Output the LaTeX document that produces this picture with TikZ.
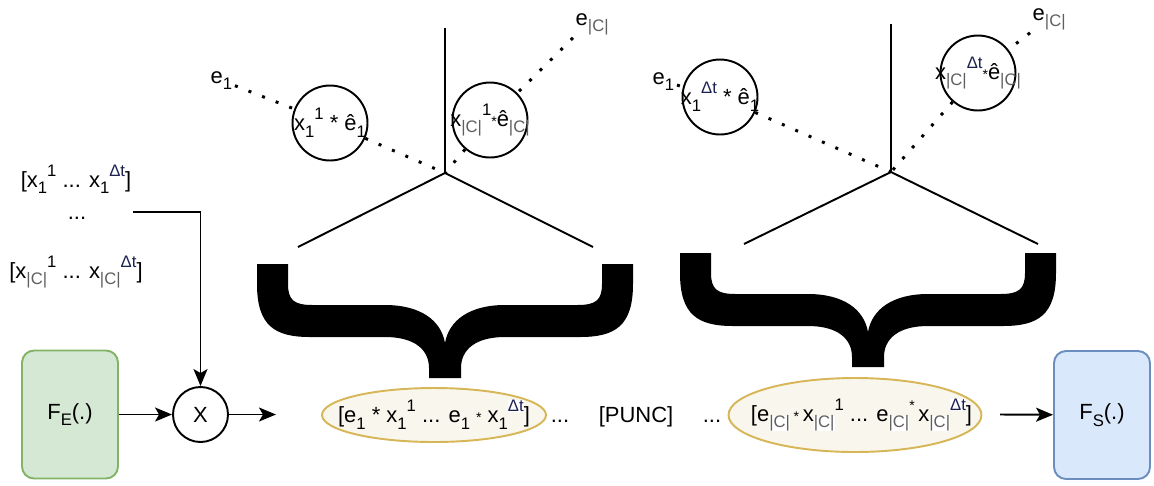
\documentclass[tikz,border=0pt]{standalone}
\usepackage{fontspec}
\setmainfont{Liberation Sans}
\usetikzlibrary{arrows.meta,shapes.geometric}

\definecolor{fefill}{HTML}{D5E8D4}
\definecolor{fedraw}{HTML}{82B366}
\definecolor{fsfill}{HTML}{DAE8FC}
\definecolor{fsdraw}{HTML}{6C8EBF}
\definecolor{seqfill}{HTML}{F9F7ED}
\definecolor{seqdraw}{HTML}{D6B656}
\definecolor{cgray}{HTML}{5F5F5F}
\definecolor{dtblue}{HTML}{1C2152}

% sub- and superscripts written side by side
\newcommand{\lo}[1]{\raisebox{-0.3em}{\fontsize{9.5}{9.5}\selectfont #1}}
\newcommand{\hi}[1]{\raisebox{0.5em}{\fontsize{9.5}{9.5}\selectfont #1}}
\newcommand{\cset}{\textcolor{cgray}{|C|}}
\newcommand{\dtime}{\textcolor{dtblue}{Δt}}
\newcommand{\wb}[1]{{\setlength{\fboxsep}{0pt}\colorbox{white}{#1}}}
\newcommand{\smallstar}{{\fontsize{8}{8}\selectfont *}}
% text that may run over the outline of its shape
\newcommand{\spill}[1]{\makebox[0pt]{#1}}

\tikzset{
	bigbrace/.pic={
		\fill (-188,0) -- (-188,20) .. controls (-188,62) and (-170,73) .. (-135,73) -- (-60,73)
			.. controls (-30,73) and (-16,86) .. (-16,104) -- (-16,114) -- (16,114) -- (16,104)
			.. controls (16,86) and (30,73) .. (60,73) -- (135,73)
			.. controls (170,73) and (188,62) .. (188,20) -- (188,0) -- (157,0) -- (157,20)
			.. controls (157,37) and (150,41) .. (132,41) -- (60,41)
			.. controls (25,41) and (4,56) .. (0,79)
			.. controls (-4,56) and (-25,41) .. (-60,41) -- (-132,41)
			.. controls (-150,41) and (-157,37) .. (-157,20) -- (-157,0) -- cycle;
	}
}

\begin{document}
\begin{tikzpicture}[x=0.02cm, y=-0.02cm, line width=1.1pt, font=\fontsize{12.5}{14}\selectfont,
		>={Stealth[length=0.34cm,width=0.28cm,inset=0.08cm]},
		block/.style={draw, rounded corners=0.24cm, minimum width=1.92cm, minimum height=2.56cm, inner sep=0pt},
		wcirc/.style={circle, draw, fill=white, minimum size=1.5cm, inner sep=0pt},
		seq/.style={ellipse, draw=seqdraw, fill=seqfill, inner sep=0pt},
		dotline/.style={line width=1.7pt, dash pattern=on 1.7pt off 6.6pt},
		lbl/.style={inner sep=1pt}]
	\useasboundingbox (0,0) rectangle (1154,485);

	% input sequences
	\node[lbl, anchor=base] (inFirst) at (76,187) {[x\lo{1}\hi{1} ... x\lo{1}\hi{\dtime}]};
	\node[lbl, anchor=base] (inDots) at (77,219) {...};
	\node[lbl, anchor=base] (inLast) at (76,278) {[x\lo{\cset}\hi{1} ... x\lo{\cset}\hi{\dtime}]};
	\coordinate (inStart) at (133,212);

	% encoder and product
	\node[block, fill=fefill, draw=fedraw] (fe) at (70,414.5) {F\lo{E}(.)};
	\node[circle, draw, minimum size=1.1cm, inner sep=0pt] (mult) at (200.5,414.5) {X};
	\coordinate (multOut) at (276,414.5);
	\draw[->] (fe) -- (mult);
	\draw[->] (inStart) -| (mult);
	\draw[->] (mult) -- (multOut);

	% left tree: first and last channel
	\coordinate (vL) at (445,173);
	\coordinate (vLtop) at (445,28);
	\coordinate (vLl) at (298,247);
	\coordinate (vLr) at (593,247);
	\draw (vLtop) -- (vL);
	\draw (vLl) -- (vL) -- (vLr);
	\node[lbl, anchor=base west] (e1L) at (208,83) {e\lo{1}};
	\node[lbl, anchor=base west] (eCL) at (573,25) {e\lo{\cset}};
	\node[wcirc] (w1L) at (330,123) {\spill{x\lo{1}\hi{1} * ê\lo{1}}};
	\node[wcirc] (wCL) at (490,120) {\spill{x\lo{\cset}\hi{1}\smallstar ê\lo{\cset}}};
	\draw[dotline] (e1L) -- (w1L) -- (vL);
	\draw[dotline] (eCL.south west) -- (wCL) -- (vL);
	\pic at (445,264) {bigbrace};

	% right tree: step \Delta t
	\coordinate (vR) at (891,172);
	\coordinate (vRtop) at (891,24);
	\coordinate (vRl) at (744,244);
	\coordinate (vRr) at (1038,244);
	\draw (vRtop) -- (vR);
	\draw (vRl) -- (vR) -- (vRr);
	\node[lbl, anchor=base west] (e1R) at (650,84) {e\lo{1}};
	\node[lbl, anchor=base west] (eCR) at (1030,20) {e\lo{\cset}};
	\node[wcirc] (w1R) at (720,97) {\spill{x\lo{1}\hi{\dtime} * ê\lo{1}}};
	\node[wcirc] (wCR) at (978,73) {\spill{x\lo{\cset}\hi{\dtime}\smallstar ê\lo{\cset}}};
	\draw[dotline] (e1R) -- (w1R) -- (vR);
	\draw[dotline] (eCR.south west) -- (wCR) -- (vR);
	\pic at (868,253) {bigbrace};

	% weighted sequence fed to the second model
	\node[seq, minimum width=4.48cm, minimum height=1.08cm] (seq1) at (434,415)
		{\spill{[e\lo{1} * x\lo{1}\hi{1} ... e\lo{1} \smallstar{} x\lo{1}\hi{\wb{\dtime}}]}};
	\node[lbl, anchor=base] (dotsA) at (560,422) {...};
	\node[lbl, anchor=base] (punc) at (636,422) {[PUNC]};
	\node[lbl, anchor=base] (dotsB) at (712,422) {...};
	\node[seq, minimum width=5.06cm, minimum height=1.48cm] (seqC) at (855,415)
		{\spill{\hspace{0.26cm}[e\lo{\wb{\cset}}\,\smallstar\,x\lo{\wb{\cset}}\hi{1} ... e\lo{\wb{\cset}}\hi{\smallstar}\,x\lo{\wb{\cset}}\hi{\wb{\dtime}}]}};
	\coordinate (seqOut) at (1000,414.5);
	\node[block, fill=fsfill, draw=fsdraw] (fs) at (1102,415) {F\lo{S}(.)};
	\draw[->] (seqOut) -- (fs);
\end{tikzpicture}
\end{document}
